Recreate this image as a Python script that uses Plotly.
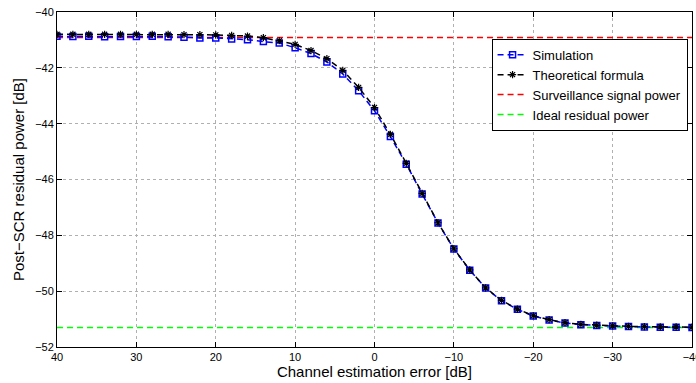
import plotly.graph_objects as go

x_err = [40, 38, 36, 34, 32, 30, 28, 26, 24, 22, 20, 18, 16, 14, 12, 10, 8, 6, 4, 2, 0,
         -2, -4, -6, -8, -10, -12, -14, -16, -18, -20, -22, -24, -26, -28, -30, -32, -34, -36, -38, -40]

sim = [-40.87, -40.88, -40.87, -40.89, -40.88, -40.88, -40.87, -40.89, -40.90, -40.93,
       -40.93, -40.97, -40.99, -41.06, -41.11, -41.28, -41.49, -41.79, -42.22, -42.82, -43.54,
       -44.46, -45.45, -46.52, -47.56, -48.49, -49.25, -49.89, -50.34, -50.65, -50.89,
       -51.03, -51.14, -51.20, -51.23, -51.25, -51.27, -51.28, -51.29, -51.29, -51.30]

theo = [-40.80, -40.80, -40.80, -40.80, -40.80, -40.80, -40.80, -40.80, -40.81, -40.81,
        -40.82, -40.84, -40.86, -40.92, -41.03, -41.16, -41.38, -41.67, -42.09, -42.70, -43.42,
        -44.38, -45.42, -46.50, -47.55, -48.48, -49.24, -49.88, -50.33, -50.64, -50.88,
        -51.02, -51.13, -51.19, -51.22, -51.24, -51.26, -51.27, -51.28, -51.28, -51.29]

surveillance_power = -40.91
ideal_residual = -51.30

x_ticks = [40, 30, 20, 10, 0, -10, -20, -30, -40]
y_ticks = [-52, -50, -48, -46, -44, -42, -40]

FONT = "Liberation Sans, Arial, sans-serif"
DASH = "6px,4px"

fig = go.Figure()
fig.add_trace(go.Scatter(
    x=[x_err[0], x_err[-1]], y=[surveillance_power, surveillance_power], mode="lines",
    line=dict(color="#ff0000", width=1.5, dash=DASH), name="Surveillance signal power",
    showlegend=False))
fig.add_trace(go.Scatter(
    x=[x_err[0], x_err[-1]], y=[ideal_residual, ideal_residual], mode="lines",
    line=dict(color="#00ff00", width=1.5, dash=DASH), name="Ideal residual power",
    showlegend=False))
fig.add_trace(go.Scatter(
    x=x_err, y=sim, mode="lines+markers", name="Simulation",
    line=dict(color="#0000ff", width=1.5, dash=DASH),
    marker=dict(symbol="square-open", size=6, color="#0000ff", line=dict(width=1.5, color="#0000ff"))))
fig.add_trace(go.Scatter(
    x=x_err, y=theo, mode="lines+markers", name="Theoretical formula",
    line=dict(color="#000000", width=1.5, dash=DASH),
    marker=dict(symbol="asterisk-open", size=6, color="#000000", line=dict(width=1.2, color="#000000"))))
fig.add_trace(go.Scatter(
    x=[None], y=[None], mode="lines", name="Surveillance signal power",
    line=dict(color="#ff0000", width=1.5, dash=DASH)))
fig.add_trace(go.Scatter(
    x=[None], y=[None], mode="lines", name="Ideal residual power",
    line=dict(color="#00ff00", width=1.5, dash=DASH)))

axis_common = dict(
    showline=True, linecolor="black", linewidth=1, mirror="allticks",
    ticks="inside", ticklen=5, tickcolor="black",
    showgrid=True, gridcolor="#b0b0b0", griddash="dot", gridwidth=1,
    zeroline=False, tickfont=dict(family=FONT, size=11, color="black"),
    automargin=False, ticklabeloverflow="allow",
)

fig.update_xaxes(range=[40, -40], tickvals=x_ticks,
                 title=dict(text="Channel estimation error [dB]", font=dict(family=FONT, size=15, color="black"), standoff=0),
                 **axis_common)
fig.update_yaxes(range=[-52, -40], tickvals=y_ticks,
                 title=dict(text="Post\u2212SCR residual power [dB]", font=dict(family=FONT, size=15, color="black"), standoff=6),
                 **axis_common)

fig.update_layout(
    width=696, height=383,
    margin=dict(l=57, r=4, t=12, b=36),
    plot_bgcolor="white", paper_bgcolor="white",
    font=dict(family=FONT, size=12, color="black"),
    legend=dict(x=0.993, y=0.92, xanchor="right", yanchor="top",
                bgcolor="white", bordercolor="black", borderwidth=1,
                font=dict(family=FONT, size=13, color="black"),
                tracegroupgap=0, itemwidth=30),
    showlegend=True,
)

fig.write_html("out.html", config={"displayModeBar": False},
               post_script="document.body.style.margin='0';document.body.style.padding='0';document.body.style.overflow='hidden';")
